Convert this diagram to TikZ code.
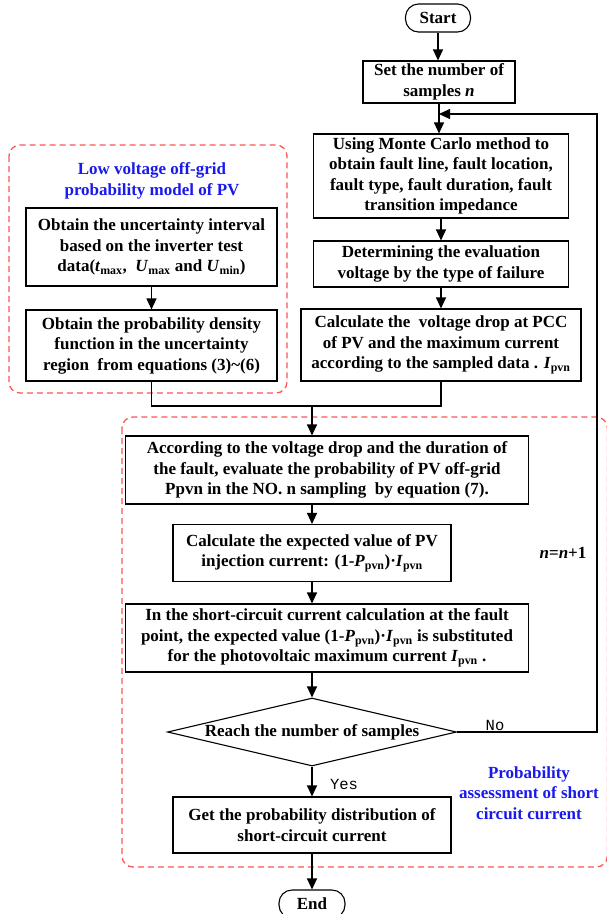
\documentclass[tikz,border=0pt]{standalone}
\usepackage{fontspec}
\setmainfont{Liberation Serif}
\newfontfamily\monofam{Liberation Mono}
\usetikzlibrary{arrows.meta,shapes.geometric}
\definecolor{dashred}{RGB}{255,85,85}
\definecolor{tblue}{RGB}{25,25,235}
\begin{document}
\begin{tikzpicture}[x=1pt,y=-1pt,
  every node/.style={font=\fontsize{17}{20.5}\selectfont\bfseries},
  box/.style={draw, line width=1.1pt, align=center, inner sep=0pt},
  term/.style={draw, line width=1.1pt, rounded corners=13pt, inner sep=0pt, minimum height=28pt},
  decision/.style={draw, diamond, line width=1.1pt, inner sep=0pt},
  arr/.style={line width=1.1pt, -{Triangle[width=10pt,length=11pt]}},
  ln/.style={line width=1.1pt},
  region/.style={draw=dashred, line width=1.3pt, dash pattern=on 6pt off 4pt, rounded corners=11pt},
  note/.style={text=tblue, align=center},
  lab/.style={font=\fontsize{15.5}{18}\selectfont\monofam},
]
\useasboundingbox (0,0) rectangle (607,914);
\clip (0,0) rectangle (607,914);

% dashed regions
\draw[region] (9,145) rectangle (287,393);
\draw[region] (122,417) rectangle (607.4,867);

% right column
\node[term, minimum width=65pt] (start) at (438,18) {Start};
\node[box, minimum width=152pt, minimum height=42pt] (set) at (439,82) {Set the number of\\samples \textit{n}};
\node[box, minimum width=255pt, minimum height=84pt] (mc) at (441,176) {Using Monte Carlo method to\\obtain fault line, fault location,\\fault type, fault duration, fault\\transition impedance};
\node[box, minimum width=255pt, minimum height=46pt] (det) at (441,264) {Determining the evaluation\\voltage by the type of failure};
\node[box, minimum width=280pt, minimum height=72pt] (calc) at (441,345) {Calculate the\ \ voltage drop at PCC\\of PV and the maximum current\\according to the sampled data . \textit{I}\textsubscript{pvn}};

% left region
\node[note] (t1) at (152,181) {Low voltage off-grid\\probability model of PV};
\node[box, minimum width=251pt, minimum height=78pt] (unc) at (151.5,247) {Obtain the uncertainty interval\\based on the inverter test\\data(\textit{t}\textsubscript{max},\ \ \textit{U}\textsubscript{max} and \textit{U}\textsubscript{min})};
\node[box, minimum width=251pt, minimum height=71pt] (pdf) at (151.5,345.5) {Obtain the probability density\\function in the uncertainty\\region\ \ from equations (3)\textasciitilde(6)};

% bottom region
\node[box, minimum width=403pt, minimum height=68pt] (acc) at (327,470) {According to the voltage drop and the duration of\\the fault, evaluate the probability of PV off-grid\\Ppvn in the NO. n sampling\ \ by equation (7).};
\node[box, minimum width=278pt, minimum height=57pt] (exp) at (312,553) {Calculate the expected value of PV\\injection current: (1-\textit{P}\textsubscript{pvn})·\textit{I}\textsubscript{pvn}};
\node[box, minimum width=403pt, minimum height=68pt] (sc) at (327,638) {In the short-circuit current calculation at the fault\\point, the expected value (1-\textit{P}\textsubscript{pvn})·\textit{I}\textsubscript{pvn} is substituted\\for the photovoltaic maximum current \textit{I}\textsubscript{pvn} .};
\node[decision, minimum width=289pt, minimum height=68pt] (dia) at (312,732) {\makebox[0pt]{Reach the number of samples}};
\node[box, minimum width=278pt, minimum height=56pt] (get) at (312,825) {Get the probability distribution of\\short-circuit current};
\node[term, minimum width=66pt] (end) at (312,904) {End};

\node[note] (t2) at (529,793) {Probability\\assessment of short\\circuit current};
\node (nn) at (563,553) {\textit{n}=\textit{n}+1};
\node[lab] (no) at (495,725) {No};
\node[lab] (yes) at (344,784) {Yes};

% connectors
\coordinate (lp) at (439,114);
\coordinate (c2) at (597,114);
\coordinate (m) at (312,406);
\draw[arr] (start.south) -- (start.south |- set.north);
\draw[arr] (set.south) -- (set.south |- mc.north);
\draw[arr] (mc.south) -- (det.north);
\draw[arr] (det.south) -- (calc.north);
\draw[arr] (unc.south) -- (pdf.north);
\draw[ln] (pdf.south) |- (m) -| (calc.south);
\draw[arr] (m) -- (m |- acc.north);
\draw[arr] (acc.south -| exp.north) -- (exp.north);
\draw[arr] (exp.south) -- (exp.south |- sc.north);
\draw[arr] (sc.south -| dia.north) -- (dia.north);
\draw[arr] (dia.south) -- (get.north);
\draw[arr] (get.south) -- (end.north);
\draw[arr] (dia.east) -| (c2) -- (lp);
\end{tikzpicture}
\end{document}
